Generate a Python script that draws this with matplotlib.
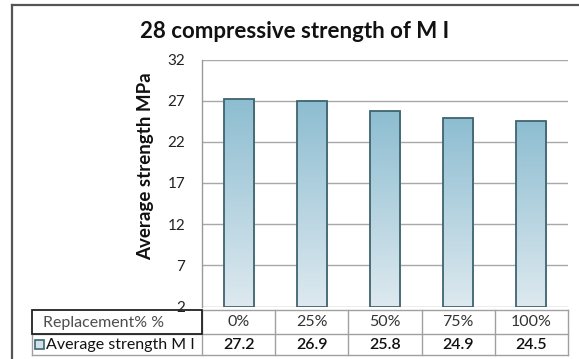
import numpy as np
import matplotlib.pyplot as plt
from matplotlib.colors import LinearSegmentedColormap
from matplotlib.patches import Rectangle

categories = ["0%", "25%", "50%", "75%", "100%"]
values = [27.2, 26.9, 25.8, 24.9, 24.5]
value_labels = ["27.2", "26.9", "25.8", "24.9", "24.5"]
yticks = [2, 7, 12, 17, 22, 27, 32]
title = "28 compressive strength of M I"
ylabel = "Average strength MPa"
row1_header = "Replacement% %"
series_name = "Average strength M I"

W, H = 579, 359
fig = plt.figure(figsize=(W / 100, H / 100), dpi=100)
plt.rcParams['font.family'] = ['Lato', 'DejaVu Sans']

def fx(px):
    return px / W

def fy(py):
    return 1 - py / H

# main plot axes (pixel box)
L, R, T, B = 202, 568, 59.5, 306.5
ax = fig.add_axes([fx(L), fy(B), fx(R) - fx(L), fy(T) - fy(B)])
ax.set_xlim(-0.5, len(categories) - 0.5)
ax.set_ylim(yticks[0], yticks[-1])
ax.set_yticks(yticks)
ax.set_yticklabels([str(t) for t in yticks], fontsize=11, color="#222222")
ax.tick_params(axis='y', length=0, pad=12)
ax.set_xticks([])
for s in ["top", "right", "bottom"]:
    ax.spines[s].set_visible(False)
ax.spines["left"].set_color("#9a9a9a")
ax.spines["left"].set_linewidth(1.0)
ax.yaxis.grid(True, color="#a8a8a8", linewidth=1.0)
ax.set_axisbelow(True)
ax.set_ylabel(ylabel, fontsize=13.5, fontweight='bold', color="#111111")
ax.yaxis.set_label_coords(-0.13, 0.57)

cmap = LinearSegmentedColormap.from_list("g", ["#dde9ef", "#8dbdd1"])
grad = np.linspace(0, 1, 256).reshape(-1, 1)
bw = 0.41
for i, v in enumerate(values):
    bar = ax.bar(i, v - yticks[0], bottom=yticks[0], width=bw, facecolor="none",
                 edgecolor="#3e6470", linewidth=1.3, zorder=3)[0]
    im = ax.imshow(grad, extent=[i - bw / 2, i + bw / 2, yticks[0], v], origin='lower',
                   aspect='auto', cmap=cmap, zorder=2)
    im.set_clip_path(bar)

# overlay axes in pixel coordinates for frame, title and table
ov = fig.add_axes([0, 0, 1, 1], zorder=-1)
ov.set_xlim(0, W)
ov.set_ylim(H, 0)
ov.axis('off')
ov2 = fig.add_axes([0, 0, 1, 1], zorder=5)
ov2.set_xlim(0, W)
ov2.set_ylim(H, 0)
ov2.axis('off')

# outer chart frame
ov.plot([12, 12], [5, H], color="#555555", lw=1.6)
ov.plot([12, W], [5, 5], color="#555555", lw=1.6)

ov2.text(295, 32, title, ha='center', va='center', fontsize=16,
         fontweight='bold', color="#111111")

# table
col_w = (R - L) / len(categories)
r0, r1, r2 = 309.5, 333.5, 355
grid_c = "#a0a0a0"
ov2.plot([L, R], [r0, r0], color=grid_c, lw=1)
ov2.plot([32, R], [r1, r1], color=grid_c, lw=1)
ov2.plot([32, R], [r2, r2], color=grid_c, lw=1)
ov2.plot([32, 32], [r1, r2], color=grid_c, lw=1)
for k in range(len(categories) + 1):
    x = L + k * col_w
    ov2.plot([x, x], [r0, r2], color=grid_c, lw=1)
ov2.add_patch(Rectangle((32, r0), L - 32, r1 - r0, fill=False,
                        edgecolor="#222222", lw=1.3, zorder=6))
ov2.text(43, (r0 + r1) / 2 + 1, row1_header, ha='left', va='center',
         fontsize=11.5, color="#4d4d4d")
ov2.add_patch(Rectangle((34.5, (r1 + r2) / 2 - 4.5), 9, 9, facecolor="#cfe2ea",
                        edgecolor="#3e6470", lw=1.2, zorder=6))
ov2.text(46, (r1 + r2) / 2 + 0.5, series_name, ha='left', va='center',
         fontsize=11.5, color="#111111")
for k, (c, vl) in enumerate(zip(categories, value_labels)):
    xc = L + (k + 0.5) * col_w
    ov2.text(xc, (r0 + r1) / 2 + 1, c, ha='center', va='center', fontsize=11.5,
             color="#333333")
    ov2.text(xc, (r1 + r2) / 2 + 0.5, vl, ha='center', va='center', fontsize=11.5,
             color="#111111", fontweight='semibold')

fig.savefig("out.png", dpi=100, facecolor="white")
